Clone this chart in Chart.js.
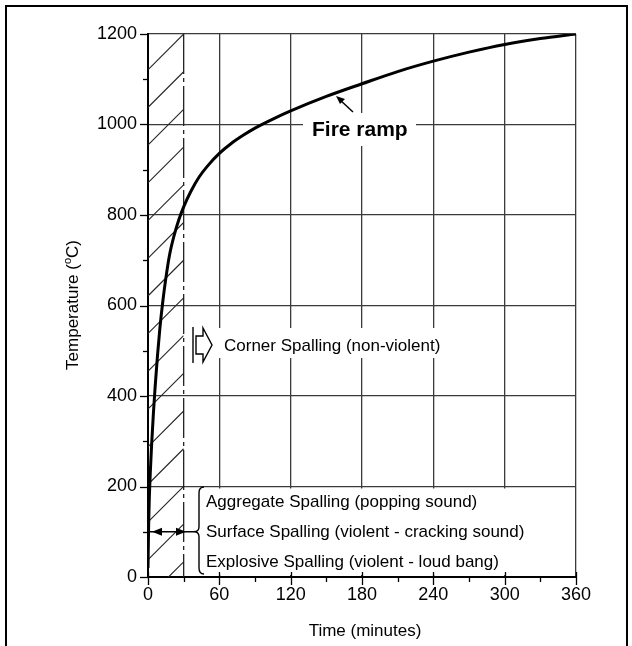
<!DOCTYPE html>
<html>
<head>
<meta charset="utf-8">
<script src="https://cdn.jsdelivr.net/npm/chart.js@4.4.1/dist/chart.umd.min.js"></script>
<style>
  html, body { margin: 0; padding: 0; background: #fff; }
  #wrap { position: relative; width: 632px; height: 646px; }
  canvas { display: block; }
</style>
</head>
<body>
<div id="wrap"><canvas id="c" width="632" height="646"></canvas></div>
<script>
// Fire ramp: furnace temperature (°C) against exposure time (minutes)
const timeMin = [0, 0.5, 1, 2, 3, 4.5, 6, 8, 10, 12.5, 15, 18, 22, 26, 30, 36, 43, 50, 60, 70, 80, 90, 105, 120, 150, 180, 210, 240, 270, 300, 330, 360];
const tempC   = [20, 110, 165, 235, 290, 360, 420, 490, 550, 610, 660, 710, 755, 790, 818, 852, 884, 908, 936, 958, 976, 992, 1012, 1030, 1062, 1090, 1117, 1140, 1160, 1177, 1190, 1200];

// Axis ticks
const xTickValues = [0, 60, 120, 180, 240, 300, 360];
const yTickValues = [0, 200, 400, 600, 800, 1000, 1200];
const xMinorTicks = [30, 90, 150, 210, 270, 330];
const yMinorTicks = [100, 300, 500, 700, 900, 1100];

// Hatched early-exposure window (minutes) and the temperature of the spalling arrow
const spallWindow = [0, 30];
const spallArrowTemp = 100;

// Annotation texts
const rampLabel = 'Fire ramp';
const cornerLabel = 'Corner Spalling (non-violent)';
const spallLines = [
  'Aggregate Spalling (popping sound)',
  'Surface Spalling (violent - cracking sound)',
  'Explosive Spalling (violent - loud bang)'
];
const xTitle = 'Time (minutes)';
const yTitleParts = ['Temperature (', 'o', 'C)'];

const FONT = '"Liberation Sans", Arial, Helvetica, sans-serif';
const GRID = '#3a3a3a';

const decor = {
  id: 'decor',
  beforeDatasetsDraw(chart) {
    const { ctx, chartArea: a, scales: { x, y } } = chart;
    ctx.save();

    // hatched window
    const hx0 = x.getPixelForValue(spallWindow[0]);
    const hx1 = x.getPixelForValue(spallWindow[1]);
    ctx.save();
    ctx.beginPath();
    ctx.rect(hx0, a.top, hx1 - hx0, a.bottom - a.top);
    ctx.clip();
    ctx.strokeStyle = '#222';
    ctx.lineWidth = 1.1;
    const gap = 37.7;
    for (let yy = a.top; yy < a.bottom + (hx1 - hx0) + gap; yy += gap) {
      ctx.beginPath();
      ctx.moveTo(hx1, yy);
      ctx.lineTo(hx1 - (a.bottom - a.top + 60), yy + (a.bottom - a.top + 60));
      ctx.stroke();
    }
    ctx.restore();

    // dash-dot edge of the window
    ctx.strokeStyle = '#222';
    ctx.lineWidth = 1.3;
    ctx.setLineDash([40, 4, 4, 4]);
    ctx.beginPath();
    ctx.moveTo(hx1, a.top);
    ctx.lineTo(hx1, a.bottom);
    ctx.stroke();
    ctx.setLineDash([]);

    // white label backgrounds over the grid
    ctx.fillStyle = '#fff';
    ctx.fillRect(303, 113, 113, 33);
    ctx.fillRect(190, 328, 270, 30);
    ctx.fillRect(196, y.getPixelForValue(200) + 2, a.right - 196 - 3, a.bottom - y.getPixelForValue(200) - 4);

    // tick marks
    ctx.strokeStyle = '#000';
    ctx.lineWidth = 1.3;
    yTickValues.forEach(v => {
      const py = Math.round(y.getPixelForValue(v)) + 0.5;
      ctx.beginPath(); ctx.moveTo(a.left - 8, py); ctx.lineTo(a.left, py); ctx.stroke();
    });
    yMinorTicks.forEach(v => {
      const py = Math.round(y.getPixelForValue(v)) + 0.5;
      ctx.beginPath(); ctx.moveTo(a.left - 5, py); ctx.lineTo(a.left, py); ctx.stroke();
    });
    xTickValues.forEach(v => {
      const px = Math.round(x.getPixelForValue(v)) + 0.5;
      ctx.beginPath(); ctx.moveTo(px, a.bottom - 5); ctx.lineTo(px, a.bottom + 8); ctx.stroke();
    });
    xMinorTicks.forEach(v => {
      const px = Math.round(x.getPixelForValue(v)) + 0.5;
      ctx.beginPath(); ctx.moveTo(px, a.bottom); ctx.lineTo(px, a.bottom + 5); ctx.stroke();
    });
    ctx.restore();
  },
  afterDatasetsDraw(chart) {
    const { ctx, chartArea: a, scales: { x, y } } = chart;
    ctx.save();
    ctx.fillStyle = '#000';
    ctx.strokeStyle = '#000';

    // Fire ramp label and pointer
    ctx.font = 'bold 21px ' + FONT;
    ctx.textBaseline = 'middle';
    ctx.textAlign = 'left';
    ctx.fillText(rampLabel, 312, 130);
    ctx.lineWidth = 1.5;
    ctx.beginPath(); ctx.moveTo(353, 112); ctx.lineTo(339, 99); ctx.stroke();
    ctx.beginPath();
    ctx.moveTo(336, 96); ctx.lineTo(345, 99); ctx.lineTo(340, 104); ctx.closePath(); ctx.fill();

    // Corner spalling: hollow block arrow + text
    ctx.lineWidth = 1.4;
    ctx.beginPath(); ctx.moveTo(193, 327); ctx.lineTo(193, 363); ctx.stroke();
    ctx.beginPath();
    ctx.moveTo(196, 336); ctx.lineTo(203, 336); ctx.lineTo(203, 328);
    ctx.lineTo(212, 345); ctx.lineTo(203, 362); ctx.lineTo(203, 354);
    ctx.lineTo(196, 354); ctx.closePath(); ctx.stroke();
    ctx.font = '17px ' + FONT;
    ctx.fillText(cornerLabel, 224, 346);

    // spalling types: brace + three lines of text
    const ay = y.getPixelForValue(spallArrowTemp);
    ctx.lineWidth = 1.4;
    ctx.beginPath();
    ctx.moveTo(204, 487);
    ctx.quadraticCurveTo(199, 487, 199, 493);
    ctx.lineTo(199, ay - 5);
    ctx.quadraticCurveTo(199, ay, 194, ay);
    ctx.quadraticCurveTo(199, ay, 199, ay + 5);
    ctx.lineTo(199, 568);
    ctx.quadraticCurveTo(199, 574, 204, 574);
    ctx.stroke();
    ctx.font = '17px ' + FONT;
    const lineY = [502, 532, 562];
    spallLines.forEach((t, i) => ctx.fillText(t, 206, lineY[i]));

    // double arrow across the early window at 100 °C
    const x0 = x.getPixelForValue(spallWindow[0]);
    ctx.lineWidth = 1.6;
    ctx.beginPath(); ctx.moveTo(x0, ay); ctx.lineTo(194, ay); ctx.stroke();
    ctx.beginPath();
    ctx.moveTo(152, ay); ctx.lineTo(162, ay - 4); ctx.lineTo(162, ay + 4); ctx.closePath(); ctx.fill();
    ctx.beginPath();
    ctx.moveTo(186, ay); ctx.lineTo(176, ay - 4); ctx.lineTo(176, ay + 4); ctx.closePath(); ctx.fill();

    // axis titles
    ctx.font = '17px ' + FONT;
    ctx.textAlign = 'center';
    ctx.textBaseline = 'middle';
    ctx.fillText(xTitle, (a.left + a.right) / 2 + 3, 631);

    ctx.save();
    ctx.translate(78, 305);
    ctx.rotate(-Math.PI / 2);
    ctx.textAlign = 'left';
    ctx.textBaseline = 'alphabetic';
    ctx.font = '17px ' + FONT;
    const w0 = ctx.measureText(yTitleParts[0]).width;
    const w2 = ctx.measureText(yTitleParts[2]).width;
    ctx.font = '11px ' + FONT;
    const w1 = ctx.measureText(yTitleParts[1]).width;
    let cx = -(w0 + w1 + w2) / 2;
    ctx.font = '17px ' + FONT;
    ctx.fillText(yTitleParts[0], cx, 0); cx += w0;
    ctx.font = '11px ' + FONT;
    ctx.fillText(yTitleParts[1], cx, -7); cx += w1;
    ctx.font = '17px ' + FONT;
    ctx.fillText(yTitleParts[2], cx, 0);
    ctx.restore();

    // page frame
    ctx.strokeStyle = '#000';
    ctx.lineWidth = 2;
    ctx.beginPath();
    ctx.moveTo(6, 646); ctx.lineTo(6, 6); ctx.lineTo(627, 6); ctx.lineTo(627, 646);
    ctx.stroke();
    ctx.restore();
  }
};

new Chart(document.getElementById('c'), {
  type: 'line',
  data: {
    datasets: [{
      data: timeMin.map((t, i) => ({ x: t, y: tempC[i] })),
      borderColor: '#000',
      borderWidth: 3,
      pointRadius: 0,
      cubicInterpolationMode: 'monotone',
      fill: false
    }]
  },
  options: {
    responsive: false,
    animation: false,
    events: [],
    layout: { padding: { left: 0, top: 34, right: 56, bottom: 0 } },
    plugins: { legend: { display: false }, tooltip: { enabled: false } },
    scales: {
      x: {
        type: 'linear', min: 0, max: 360,
        afterFit: s => { s.height = 69; },
        afterBuildTicks: s => { s.ticks = xTickValues.map(v => ({ value: v })); },
        ticks: { color: '#000', font: { family: FONT, size: 18 }, padding: 7, maxRotation: 0,
                 callback: v => String(v) },
        grid: { color: GRID, lineWidth: 1.3, drawTicks: false },
        border: { color: '#000', width: 2 }
      },
      y: {
        type: 'linear', min: 0, max: 1200,
        afterFit: s => { s.width = 148; },
        afterBuildTicks: s => { s.ticks = yTickValues.map(v => ({ value: v })); },
        ticks: { color: '#000', font: { family: FONT, size: 18 }, padding: 11,
                 callback: v => String(v) },
        grid: { color: GRID, lineWidth: 1.3, drawTicks: false },
        border: { color: '#000', width: 2 }
      }
    }
  },
  plugins: [decor]
});
</script>
</body>
</html>
